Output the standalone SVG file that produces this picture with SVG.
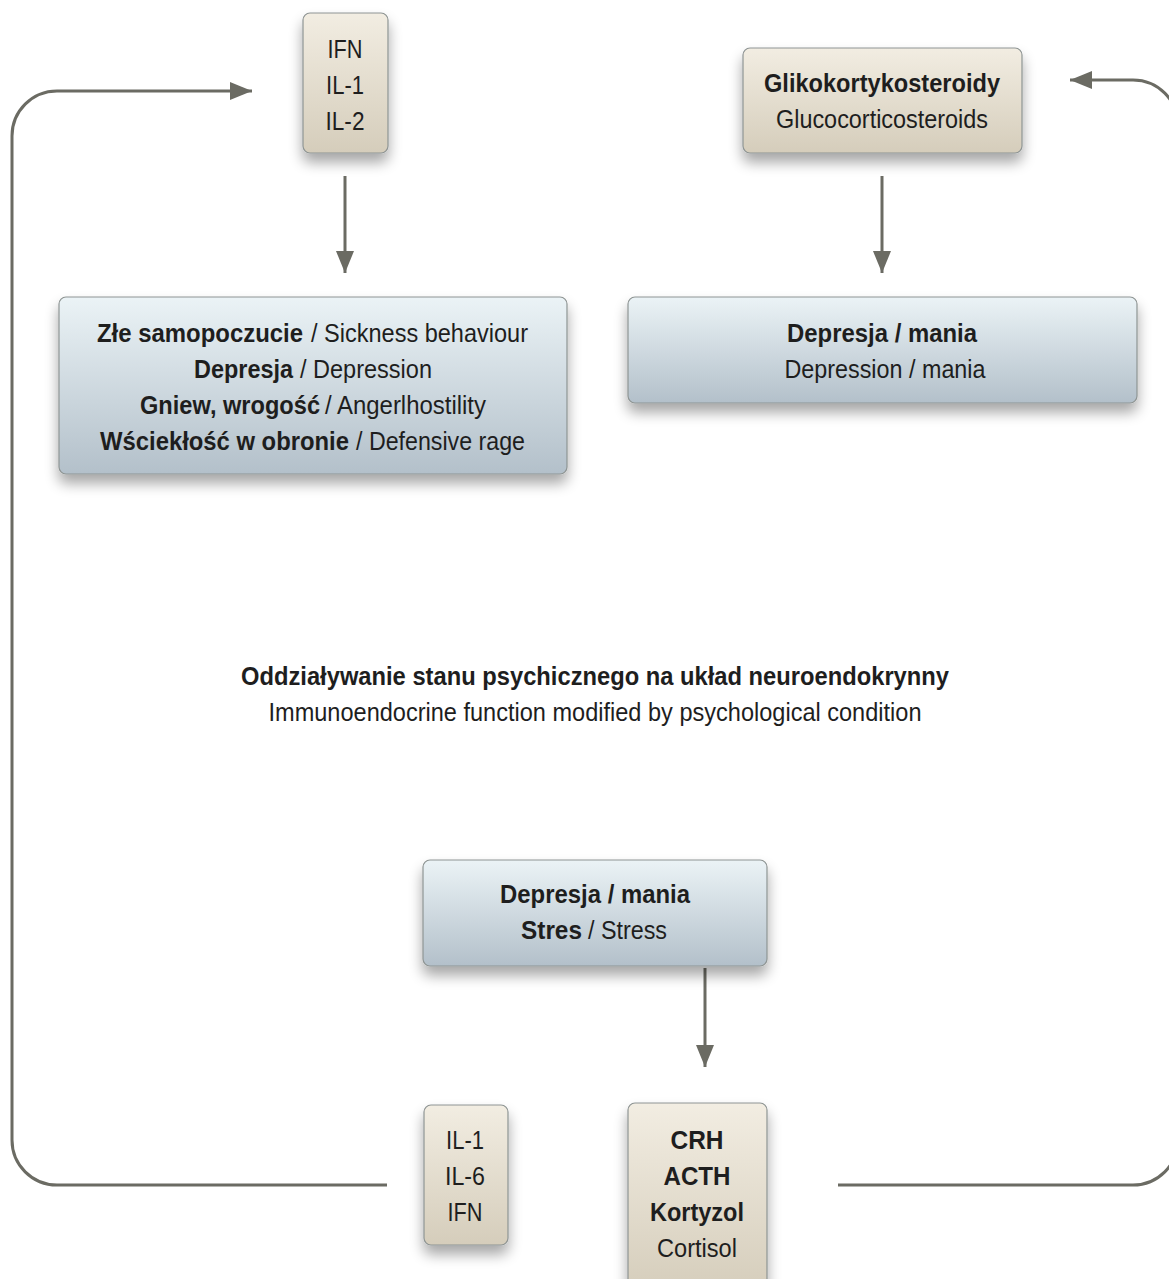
<svg xmlns="http://www.w3.org/2000/svg" width="1169" height="1279" viewBox="0 0 1169 1279">
<defs>
<linearGradient id="gBeige" x1="0" y1="0" x2="0" y2="1">
<stop offset="0" stop-color="#f2ede2"/>
<stop offset="1" stop-color="#d5cdbb"/>
</linearGradient>
<linearGradient id="gBlue" x1="0" y1="0" x2="0" y2="1">
<stop offset="0" stop-color="#ebf3f6"/>
<stop offset="1" stop-color="#b3c0ca"/>
</linearGradient>
<filter id="sh" x="-20%" y="-20%" width="140%" height="160%">
<feGaussianBlur in="SourceAlpha" stdDeviation="7"/>
<feOffset dx="0" dy="9" result="b"/>
<feComponentTransfer><feFuncA type="linear" slope="0.35"/></feComponentTransfer>
<feMerge><feMergeNode/><feMergeNode in="SourceGraphic"/></feMerge>
</filter>
<marker id="ah" markerWidth="22" markerHeight="18" refX="22" refY="9" orient="auto" markerUnits="userSpaceOnUse">
<path d="M0,0 L22,9 L0,18 Z" fill="#6b6b63"/>
</marker>
</defs>
<style>
.beige{fill:url(#gBeige);stroke:#8e9493;stroke-width:1.2;filter:url(#sh)}
.blue{fill:url(#gBlue);stroke:#8e9493;stroke-width:1.2;filter:url(#sh)}
text{font-family:"Liberation Sans Narrow","Liberation Sans",Arial,sans-serif;font-size:26px;fill:#1e1e1e;text-anchor:middle}
text.s{text-anchor:start}
.b{font-weight:bold}
.c{fill:none;stroke:#6b6b63;stroke-width:3}
</style>
<rect width="1169" height="1279" fill="#ffffff"/>
<g id="connectors">
<line class="c" x1="345" y1="176" x2="345" y2="273" marker-end="url(#ah)"/>
<line class="c" x1="882" y1="176" x2="882" y2="273" marker-end="url(#ah)"/>
<line class="c" x1="705" y1="968" x2="705" y2="1067" marker-end="url(#ah)"/>
<path class="c" d="M387,1185 H57 A45,45 0 0 1 12,1140 V136 A45,45 0 0 1 57,91 H252" marker-end="url(#ah)"/>
<path class="c" d="M838,1185 H1133 A45,45 0 0 0 1178,1140 V125 A45,45 0 0 0 1133,80 H1070" marker-end="url(#ah)"/>
</g>
<g id="node-ifn">
<rect class="beige" x="303" y="13" width="85" height="140" rx="7"/>
<text x="345" y="58" textLength="35" lengthAdjust="spacingAndGlyphs">IFN</text>
<text x="345" y="94" textLength="38" lengthAdjust="spacingAndGlyphs">IL-1</text>
<text x="345" y="130" textLength="39" lengthAdjust="spacingAndGlyphs">IL-2</text>
</g>
<g id="node-gliko">
<rect class="beige" x="743" y="48" width="279" height="105" rx="7"/>
<text x="882" y="92" class="b" textLength="236" lengthAdjust="spacingAndGlyphs">Glikokortykosteroidy</text>
<text x="882" y="128" textLength="212" lengthAdjust="spacingAndGlyphs">Glucocorticosteroids</text>
</g>
<g id="node-sickness">
<rect class="blue" x="59" y="297" width="508" height="177" rx="7"/>
<text class="s b" x="97" y="342" textLength="206" lengthAdjust="spacingAndGlyphs">Złe samopoczucie</text>
<text class="s" x="311" y="342" textLength="217" lengthAdjust="spacingAndGlyphs">/ Sickness behaviour</text>
<text class="s b" x="194" y="378" textLength="99" lengthAdjust="spacingAndGlyphs">Depresja</text>
<text class="s" x="300" y="378" textLength="132" lengthAdjust="spacingAndGlyphs">/ Depression</text>
<text class="s b" x="140" y="414" textLength="180" lengthAdjust="spacingAndGlyphs">Gniew, wrogość</text>
<text class="s" x="325" y="414" textLength="161" lengthAdjust="spacingAndGlyphs">/ Angerlhostility</text>
<text class="s b" x="100" y="450" textLength="249" lengthAdjust="spacingAndGlyphs">Wściekłość w obronie</text>
<text class="s" x="356" y="450" textLength="169" lengthAdjust="spacingAndGlyphs">/ Defensive rage</text>
</g>
<g id="node-depmania-right">
<rect class="blue" x="628" y="297" width="509" height="106" rx="7"/>
<text x="882" y="342" class="b" textLength="190" lengthAdjust="spacingAndGlyphs">Depresja / mania</text>
<text x="885" y="378" textLength="201" lengthAdjust="spacingAndGlyphs">Depression / mania</text>
</g>
<g id="title">
<text x="595" y="685" class="b" textLength="708" lengthAdjust="spacingAndGlyphs">Oddziaływanie stanu psychicznego na układ neuroendokrynny</text>
<text x="595" y="721" textLength="653" lengthAdjust="spacingAndGlyphs">Immunoendocrine function modified by psychological condition</text>
</g>
<g id="node-stress">
<rect class="blue" x="423" y="860" width="344" height="106" rx="7"/>
<text x="595" y="903" class="b" textLength="190" lengthAdjust="spacingAndGlyphs">Depresja / mania</text>
<text class="s b" x="521" y="939" textLength="61" lengthAdjust="spacingAndGlyphs">Stres</text>
<text class="s" x="588" y="939" textLength="79" lengthAdjust="spacingAndGlyphs">/ Stress</text>
</g>
<g id="node-il-bottom">
<rect class="beige" x="424" y="1105" width="84" height="140" rx="7"/>
<text x="465" y="1149" textLength="38" lengthAdjust="spacingAndGlyphs">IL-1</text>
<text x="465" y="1185" textLength="40" lengthAdjust="spacingAndGlyphs">IL-6</text>
<text x="465" y="1221" textLength="35" lengthAdjust="spacingAndGlyphs">IFN</text>
</g>
<g id="node-crh">
<rect class="beige" x="628" y="1103" width="139" height="190" rx="7"/>
<text x="697" y="1149" class="b" textLength="53" lengthAdjust="spacingAndGlyphs">CRH</text>
<text x="697" y="1185" class="b" textLength="67" lengthAdjust="spacingAndGlyphs">ACTH</text>
<text x="697" y="1221" class="b" textLength="94" lengthAdjust="spacingAndGlyphs">Kortyzol</text>
<text x="697" y="1257" textLength="80" lengthAdjust="spacingAndGlyphs">Cortisol</text>
</g>
</svg>
